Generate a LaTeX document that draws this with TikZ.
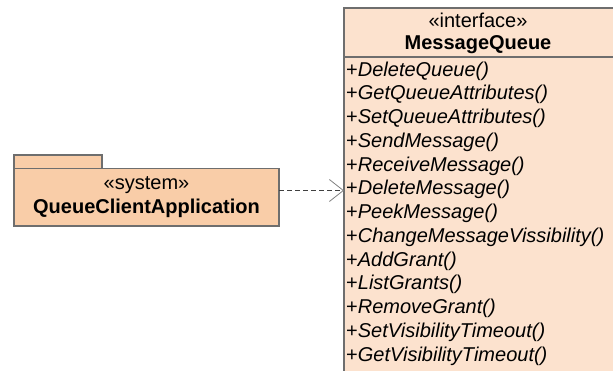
\documentclass[tikz,border=0pt]{standalone}
\usepackage{fontspec}
\setmainfont{Liberation Sans}
\usetikzlibrary{arrows.meta}
\definecolor{pkgfill}{HTML}{F9CDA8}
\definecolor{ifill}{HTML}{FCE2CE}
\definecolor{bordergray}{HTML}{6E6E6E}
\definecolor{arrowgray}{HTML}{808080}
\tikzset{
  umlbox/.style={draw=bordergray, line width=1.2pt},
  optext/.style={anchor=west, inner sep=0pt, font=\fontsize{20}{22}\selectfont\itshape},
  stereo/.style={inner sep=0pt, font=\fontsize{20}{22}\selectfont},
  title/.style={inner sep=0pt, font=\fontsize{20}{22}\selectfont\bfseries},
  depend/.style={draw=black!75, dashed, dash pattern=on 5pt off 3pt, line width=0.8pt,
    -{Straight Barb[length=14pt,width=22pt,line width=0.8pt,color=arrowgray]}}
}
\begin{document}
\begin{tikzpicture}[x=1pt,y=-1pt]
\useasboundingbox (0,0) rectangle (613,371);
\begin{scope}
\clip (0,0) rectangle (613,371);
% interface box
\path[umlbox, fill=ifill] (344,8) rectangle (616,380);
\draw[bordergray, line width=1.2pt] (344,57) -- (616,57);
\node[stereo] (istereo) at (478,20) {«interface»};
\node[title] (ititle) at (478,45) {MessageQueue};
\foreach \t [count=\i from 0] in {DeleteQueue,GetQueueAttributes,SetQueueAttributes,SendMessage,ReceiveMessage,DeleteMessage,PeekMessage,ChangeMessageVissibility,AddGrant,ListGrants,RemoveGrant,SetVisibilityTimeout,GetVisibilityTimeout}{
  \node[optext] (op\i) at (346,{71+\i*23.75}) {{\upshape+}\t()};
}
\coordinate (itarget) at (344,190.5);
% package
\path[umlbox, fill=pkgfill] (14,155) rectangle (102,168.5);
\path[umlbox, fill=pkgfill] (14,168.5) rectangle (279,226);
\node[stereo] (pstereo) at (146.5,185) {«system»};
\node[title] (ptitle) at (146.5,208) {QueueClientApplication};
\coordinate (psource) at (279,190.5);
\draw[depend] (psource) -- (itarget);
\end{scope}
\end{tikzpicture}
\end{document}
